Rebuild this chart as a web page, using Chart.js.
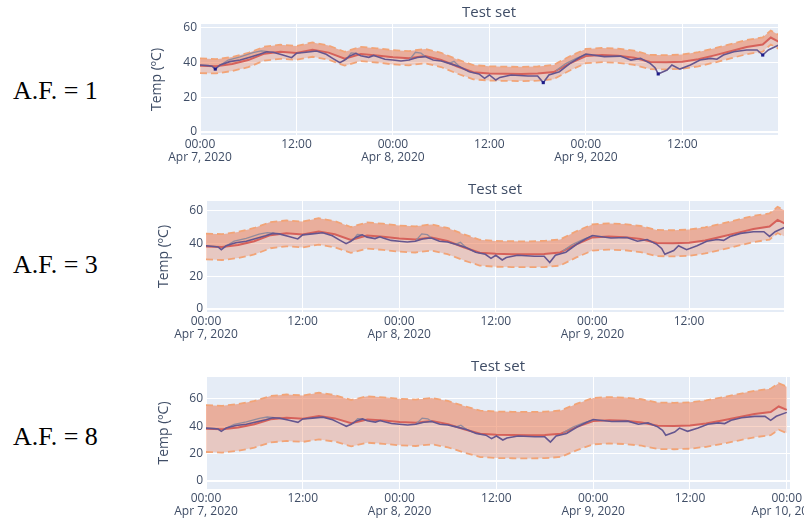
<!DOCTYPE html>
<html>
<head>
<meta charset="utf-8">
<script src="https://cdn.jsdelivr.net/npm/chart.js@4.4.1/dist/chart.umd.min.js"></script>
<style>
  body { margin: 0; background: #fff; width: 804px; height: 522px; position: relative; overflow: hidden; }
  .af { position: absolute; left: 13px; font-family: "Liberation Serif", "Times New Roman", serif; font-size: 26px; line-height: 26px; color: #000; white-space: nowrap; }
  .panel { position: absolute; left: 140px; }
  .panel canvas { display: block; }
</style>
</head>
<body>
<div class="af" style="top:78px">A.F. = 1</div>
<div class="af" style="top:252px">A.F. = 3</div>
<div class="af" style="top:424px">A.F. = 8</div>

<div class="panel" style="top:0px"><canvas id="chart1" width="664" height="175"></canvas></div>
<div class="panel" style="top:175px"><canvas id="chart2" width="664" height="175"></canvas></div>
<div class="panel" style="top:350px"><canvas id="chart3" width="664" height="172"></canvas></div>

<script>
/* =========================
   DATA (jam sejak Apr 7, 2020 00:00)
========================= */
const hours = [0, 2, 4, 6, 8, 10, 12, 14, 16, 18, 20, 22, 24, 26, 28, 30, 32, 34, 36, 38,
  40, 42, 44, 46, 48, 50, 52, 54, 56, 58, 60, 62, 64, 66, 68, 70, 71, 72];

// prediksi (garis merah)
const meanTemp = [38.3, 37.9, 39.2, 41.5, 45.2, 46.3, 45.6, 47.5, 45.8, 42.3, 45.0, 44.2, 43.1, 42.6, 43.8, 41.6, 37.8, 34.5, 33.8, 33.6,
  33.5, 33.7, 34.6, 39.6, 43.8, 44.4, 44.0, 42.8, 40.4, 40.2, 40.6, 42.0, 44.2, 46.6, 49.0, 50.5, 54.5, 52.0];

// batas atas / bawah per A.F.
const upper1 = [42.5, 42.0, 43.3, 45.6, 49.2, 50.4, 49.6, 51.7, 49.9, 46.3, 49.1, 48.3, 47.2, 46.7, 47.9, 45.7, 41.9, 38.6, 37.9, 37.7,
  37.6, 37.8, 38.7, 43.7, 47.9, 48.5, 48.1, 46.9, 44.5, 44.3, 44.7, 46.1, 48.3, 50.7, 53.1, 54.6, 58.5, 56.0];
const lower1 = [34.0, 33.8, 35.2, 37.4, 41.2, 42.2, 41.7, 43.4, 41.7, 38.3, 40.9, 40.1, 39.0, 38.5, 39.7, 37.5, 33.7, 30.4, 29.7, 29.5,
  29.4, 29.6, 30.5, 35.5, 39.7, 40.3, 39.9, 38.7, 36.3, 36.1, 36.5, 37.9, 40.1, 42.5, 44.9, 46.4, 50.5, 48.0];
const upper3 = [46.2, 45.8, 47.2, 49.6, 53.2, 54.2, 53.5, 55.6, 53.8, 50.2, 53.0, 52.2, 51.1, 50.6, 51.8, 49.6, 45.8, 42.4, 41.7, 41.5,
  41.4, 41.7, 42.6, 47.6, 51.8, 52.4, 52.0, 50.8, 48.4, 48.2, 48.6, 50.0, 52.2, 54.6, 57.0, 58.5, 62.5, 60.0];
const lower3 = [30.4, 30.0, 31.2, 33.4, 37.2, 38.4, 37.7, 39.4, 37.8, 34.4, 37.0, 36.2, 35.1, 34.6, 35.8, 33.6, 29.8, 26.6, 25.9, 25.7,
  25.6, 25.7, 26.6, 31.6, 35.8, 36.4, 36.0, 34.8, 32.4, 32.2, 32.6, 34.0, 36.2, 38.6, 41.0, 42.5, 46.5, 44.0];
const upper8 = [55.5, 55.0, 56.3, 58.6, 62.2, 63.3, 62.6, 64.6, 62.8, 59.3, 62.0, 61.2, 60.1, 59.6, 60.8, 58.6, 54.8, 51.5, 50.8, 50.6,
  50.5, 50.7, 51.6, 56.6, 60.8, 61.4, 61.0, 59.8, 57.4, 57.2, 57.6, 59.0, 61.2, 63.6, 66.0, 67.5, 71.5, 69.0];
const lower8 = [21.2, 20.8, 22.1, 24.4, 28.2, 29.3, 28.6, 30.4, 28.8, 25.3, 28.0, 27.2, 26.1, 25.6, 26.8, 24.6, 20.8, 17.5, 16.8, 16.6,
  16.5, 16.7, 17.6, 22.6, 26.8, 27.4, 27.0, 25.8, 23.4, 23.2, 23.6, 25.0, 27.2, 29.6, 32.0, 33.5, 37.5, 35.0];

// suhu aktual (garis ungu)
const trueHours = [0, 1, 1.5, 1.9, 2.5, 3.7, 5, 6.2, 7.4, 8.3, 9.1, 10.3, 11.4, 12, 13.2, 14.5, 15.7, 16.5, 17.4, 18,
  18.6, 19.4, 20, 21, 21.6, 22, 23, 24, 25, 26, 27, 28, 29, 30, 31, 32.3, 33.5, 34.7, 35.4, 36,
  36.8, 37.3, 38.7, 40.8, 42, 42.7, 43.4, 44.7, 46, 47.2, 48, 50.3, 52.3, 53.6, 54.8, 56, 56.6, 57, 58.1, 58.7,
  59.7, 61, 62.2, 63.5, 64.3, 65.1, 66.4, 68, 69.3, 70, 70.7, 72];
const trueTemp = [38.7, 38.3, 38.0, 36.3, 38.7, 40.6, 41.5, 43.1, 44.8, 46.3, 46.0, 44.4, 42.9, 45.4, 46.0, 46.7, 44.8, 42.5, 40.0, 41.5,
  43.8, 45.4, 44.0, 43.1, 44.2, 43.5, 42.0, 41.5, 41.0, 41.5, 43.0, 43.5, 41.5, 41.0, 39.6, 37.7, 34.8, 33.5, 31.0, 32.9,
  30.0, 31.5, 32.9, 32.3, 32.3, 28.5, 32.9, 34.8, 39.5, 43.0, 45.0, 43.5, 43.8, 41.5, 42.5, 39.6, 37.1, 33.5, 35.8, 38.7,
  36.3, 38.7, 41.5, 42.5, 42.0, 44.4, 46.3, 47.3, 47.3, 44.4, 47.3, 50.2];

// potongan garis abu-abu (null = putus)
const greyHours = [2.6, 3.5, 5, 6.6, 7.6, 8.5, 9, 18.2, 18.8, 19.5, 20, 26, 26.8, 27.5, 28, 28.5, 31, 31.6, 32.3, 33, 44.3, 45.5, 46.8, 48];
const greyTemp = [38.8, 41.5, 43.3, 45.8, 46.8, 46.4, null, 41.8, 45.6, 45.4, null, 41.5, 46.0, 45.5, 43.5, null, 39.6, 40.8, 37.7, null, 35.5, 39.5, 42.5, 44.6];

// titik biru (hanya A.F. = 1)
const markHours = [1.9, 42.7, 57, 70];
const markTemp = [36.3, 28.5, 33.5, 44.4];

const xTickHours = [0, 12, 24, 36, 48, 60, 72];
const xTickLabels = [["00:00", "Apr 7, 2020"], "12:00", ["00:00", "Apr 8, 2020"], "12:00",
  ["00:00", "Apr 9, 2020"], "12:00", ["00:00", "Apr 10, 2020"]];
const yTickValues = [0, 20, 40, 60];

/* =========================
   GAYA
========================= */
const TEXT = "#3f4d66";
Chart.defaults.font.family = '"Open Sans", sans-serif';
Chart.defaults.color = TEXT;

const plotBg = {
  id: "plotBg",
  beforeDraw(chart) {
    const { ctx, chartArea: a } = chart;
    ctx.save();
    ctx.fillStyle = "#E5ECF6";
    ctx.fillRect(a.left, a.top, a.right - a.left, a.bottom - a.top);
    ctx.restore();
  }
};

const pts = (xs, ys) => xs.map((x, i) => ({ x, y: ys[i] }));

function makeChart(id, cfg) {
  const datasets = [];
  if (cfg.markers) {
    datasets.push({ data: pts(markHours, markTemp), showLine: false, pointStyle: "rect",
      pointRadius: 2.2, pointBackgroundColor: "#1c1c8a", pointBorderWidth: 0 });
  }
  datasets.push(
    { data: pts(trueHours, trueTemp), borderColor: "#65568f", borderWidth: 1.6, pointRadius: 0 },
    { data: pts(greyHours, greyTemp), borderColor: "#938b9c", borderWidth: 1.3, pointRadius: 0, spanGaps: false },
    { data: pts(hours, meanTemp), borderColor: "#d6615a", borderWidth: 2, pointRadius: 0 }
  );
  const meanIdx = datasets.length - 1;
  datasets.push(
    { data: pts(hours, cfg.upper), borderColor: "#f2a477", borderWidth: 1.8, borderDash: [7, 4], pointRadius: 0,
      fill: meanIdx, backgroundColor: "rgba(236,125,85,0.56)" },
    { data: pts(hours, cfg.lower), borderColor: "#f2a477", borderWidth: 1.8, borderDash: [7, 4], pointRadius: 0,
      fill: meanIdx, backgroundColor: "rgba(236,125,85,0.32)" }
  );

  return new Chart(document.getElementById(id), {
    type: "line",
    data: { datasets },
    plugins: [plotBg],
    options: {
      responsive: false,
      animation: false,
      layout: { padding: { left: cfg.padLeft, right: cfg.padRight, top: 0, bottom: 0 } },
      elements: { line: { tension: 0 } },
      plugins: {
        legend: { display: false },
        tooltip: { enabled: false },
        filler: { drawTime: "beforeDatasetsDraw" },
        title: {
          display: true, text: "Test set", fullSize: false, color: TEXT,
          font: { size: 15, weight: "normal", lineHeight: 1.2 },
          padding: { top: cfg.titleTop, bottom: cfg.titleBottom }
        }
      },
      scales: {
        x: {
          type: "linear", min: 0, max: cfg.xMax,
          border: { display: false },
          grid: { color: "#ffffff", lineWidth: 1, drawTicks: false },
          ticks: {
            autoSkip: false, maxRotation: 0, padding: 3, color: TEXT,
            font: { size: 12, lineHeight: 1.1 },
            callback: v => xTickLabels[xTickHours.indexOf(v)]
          },
          afterBuildTicks: s => { s.ticks = xTickHours.filter(h => h <= cfg.xMax).map(v => ({ value: v })); },
          afterFit: s => { s.height = cfg.xHeight; s.paddingLeft = 0; s.paddingRight = 0; }
        },
        y: {
          min: cfg.yMin, max: cfg.yMax,
          border: { display: false },
          grid: { color: "#ffffff", lineWidth: c => (c.tick && c.tick.value === 0 ? 2 : 1), drawTicks: false },
          ticks: { padding: 3, color: TEXT, font: { size: 12 } },
          title: { display: true, text: "Temp (ºC)", color: TEXT, font: { size: 14, lineHeight: 1.2 }, padding: { top: 3, bottom: 0 } },
          afterBuildTicks: s => { s.ticks = yTickValues.map(v => ({ value: v })); },
          afterFit: s => { s.width = cfg.yWidth; s.paddingTop = 0; s.paddingBottom = 0; }
        }
      }
    }
  });
}

/* =========================
   TIGA PANEL
========================= */
document.addEventListener("DOMContentLoaded", () => {
  makeChart("chart1", { upper: upper1, lower: lower1, markers: true, yMin: -1.7, yMax: 62.3, xMax: 71.9,
    padLeft: 6, yWidth: 54, padRight: 26, titleTop: 4, titleBottom: 2, xHeight: 40 });
  makeChart("chart2", { upper: upper3, lower: lower3, markers: false, yMin: -1.8, yMax: 66.1, xMax: 71.8,
    padLeft: 13, yWidth: 53, padRight: 20, titleTop: 6, titleBottom: 2, xHeight: 38 });
  makeChart("chart3", { upper: upper8, lower: lower8, markers: false, yMin: -5.9, yMax: 76.1, xMax: 72.4,
    padLeft: 13, yWidth: 53, padRight: 14, titleTop: 8, titleBottom: 1, xHeight: 33 });
});
</script>
</body>
</html>
